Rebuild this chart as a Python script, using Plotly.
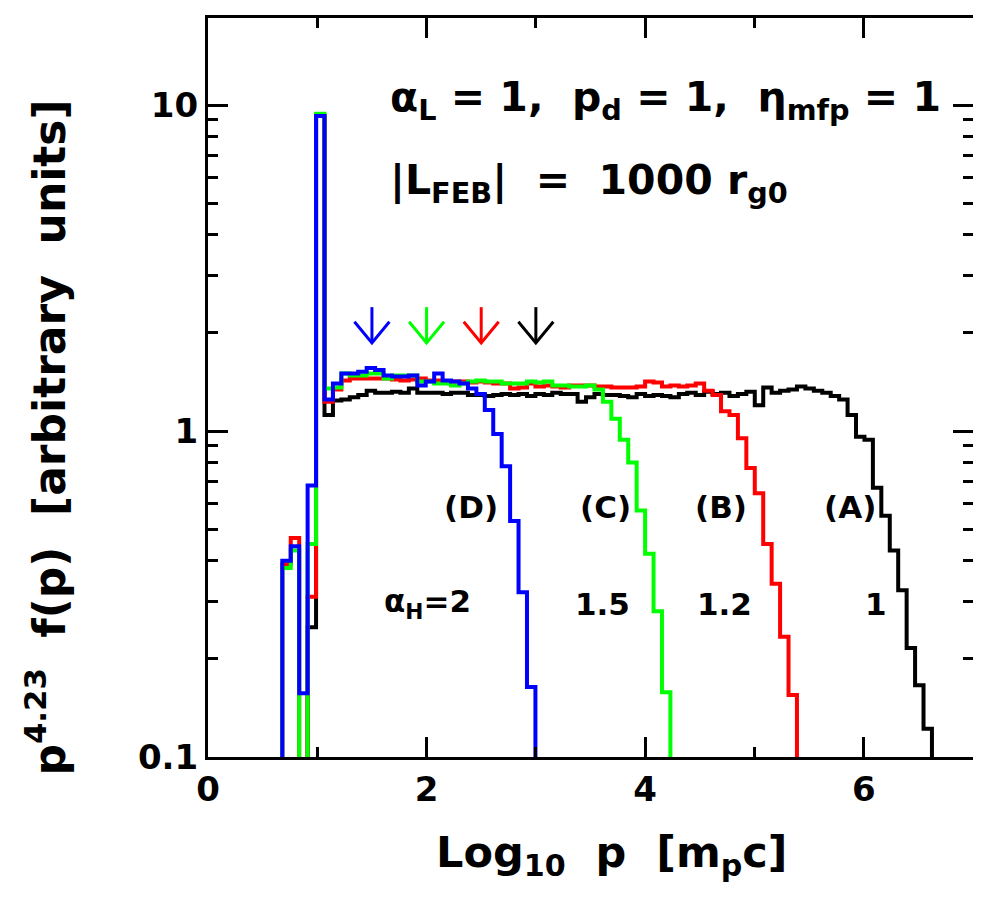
import numpy as np
import plotly.graph_objects as go

# bin grid in Log10 p (shared by all runs)
bin_start = 0.680
bin_width = 0.0772

# p^4.23 f(p) per bin, 0 = empty bin
spec_A = [0, 0, 0, 0.25, 9.25,
          1.12, 1.24, 1.25, 1.27, 1.29, 1.33, 1.31, 1.31, 1.32, 1.31,
          1.35, 1.31, 1.31, 1.31, 1.30, 1.31, 1.31, 1.29, 1.29, 1.28,
          1.29, 1.30, 1.29, 1.30, 1.28, 1.30, 1.29, 1.31, 1.30, 1.30,
          1.23, 1.27, 1.30, 1.29, 1.29, 1.28, 1.27, 1.30, 1.28, 1.29,
          1.28, 1.27, 1.30, 1.31, 1.29, 1.32, 1.30, 1.31, 1.28, 1.30,
          1.32, 1.20, 1.36, 1.31, 1.33, 1.34, 1.37, 1.35, 1.33, 1.31,
          1.28, 1.25, 1.12, 0.96, 0.94, 0.67, 0.55, 0.43, 0.325, 0.216,
          0.166, 0.122]
spec_B = [0.39, 0.47, 0, 0.31, 9.25,
          1.23, 1.34, 1.43, 1.45, 1.45, 1.45, 1.45, 1.45, 1.44, 1.43,
          1.44, 1.45, 1.43, 1.43, 1.42, 1.42, 1.42, 1.41, 1.42, 1.41,
          1.40, 1.40, 1.35, 1.36, 1.40, 1.37, 1.38, 1.37, 1.36, 1.38,
          1.38, 1.38, 1.37, 1.37, 1.36, 1.36, 1.36, 1.37, 1.42, 1.41,
          1.37, 1.38, 1.37, 1.38, 1.40, 1.33, 1.29, 1.15, 1.12, 0.95,
          0.77, 0.644, 0.45, 0.34, 0.234, 0.155]
spec_C = [0.38, 0.43, 0, 0.45, 9.4,
          1.35, 1.36, 1.50, 1.48, 1.48, 1.50, 1.50, 1.45, 1.48, 1.48,
          1.48, 1.42, 1.42, 1.40, 1.40, 1.38, 1.40, 1.42, 1.43, 1.42,
          1.42, 1.40, 1.40, 1.40, 1.42, 1.41, 1.42, 1.38, 1.38, 1.37,
          1.37, 1.38, 1.34, 1.23, 1.09, 0.94, 0.80, 0.57, 0.42, 0.28,
          0.158]
spec_D = [0.40, 0.443, 0.157, 0.68, 9.25,
          1.25, 1.40, 1.50, 1.50, 1.52, 1.56, 1.54, 1.48, 1.47, 1.47,
          1.48, 1.38, 1.42, 1.50, 1.43, 1.42, 1.40, 1.35, 1.30, 1.16,
          0.98, 0.78, 0.53, 0.32, 0.164]

series_names = ["(A)", "(B)", "(C)", "(D)"]
series_colors = ["black", "#ff0000", "#00ff00", "#0000ff"]
alpha_H = ["1", "1.2", "1.5", "2"]

# arrows mark Log10 p for each run
arrow_x = [3.0, 2.5, 2.0, 1.5]

text_color = "black"
font_family = "DejaVu Sans"


def step_trace(values, color):
    n = len(values)
    edges = bin_start + bin_width * np.arange(n + 1)
    y = [v if v > 0 else 1e-3 for v in values]
    xs = np.concatenate([[edges[0]], edges, [edges[-1]]])
    ys = [1e-3] + y + [y[-1], 1e-3]
    return go.Scatter(x=xs, y=ys, mode="lines", line_shape="hv",
                      line=dict(color=color, width=4), showlegend=False,
                      hoverinfo="skip")


fig = go.Figure()
for vals, col in zip([spec_A, spec_B, spec_C, spec_D], series_colors):
    fig.add_trace(step_trace(vals, col))

# open "V" arrows
tip = 10 ** 0.27
top = 10 ** 0.38
wing = 10 ** 0.335
for ax_, col in zip(arrow_x, series_colors):
    fig.add_trace(go.Scatter(
        x=[ax_, ax_, None, ax_ - 0.16, ax_, ax_ + 0.16],
        y=[top, tip, None, wing, tip, wing],
        mode="lines", line=dict(color=col, width=3),
        showlegend=False, hoverinfo="skip"))


def bold(size):
    return dict(family=font_family, size=size, color=text_color, weight="bold")


annots = [
    dict(x=1.65, y=1.015, xanchor="left", font=bold(41),
         text="α<sub>L</sub> = 1,  p<sub>d</sub> = 1,  η<sub>mfp</sub> = 1"),
    dict(x=1.65, y=0.761, xanchor="left", font=bold(41),
         text="|L<sub>FEB</sub>|  =  1000 r<sub>g0</sub>"),
]
label_x = [5.87, 4.69, 3.64, 2.41]
ah_x = [6.11, 4.73, 3.61, 2.01]
for name, lx in zip(series_names, label_x):
    annots.append(dict(x=lx, y=-0.233, xanchor="center", text=name, font=bold(31)))
for i, (a, hx) in enumerate(zip(alpha_H, ah_x)):
    t = "α<sub>H</sub>=" + a if i == 3 else a
    annots.append(dict(x=hx, y=-0.53, xanchor="center", text=t, font=bold(31)))
for a in annots:
    a.update(xref="x", yref="y", showarrow=False, yanchor="middle")

# axis titles
annots.append(dict(xref="paper", yref="paper", x=0.527, y=-0.133,
                   xanchor="center", yanchor="middle", showarrow=False,
                   font=bold(43),
                   text="Log<sub>10</sub>  p  [m<sub>p</sub>c]"))
annots.append(dict(xref="paper", yref="paper", x=-0.212, y=0.432,
                   xanchor="center", yanchor="middle", showarrow=False,
                   textangle=-90, font=bold(44),
                   text="p<sup>4.23</sup>  f(p)  [arbitrary  units]"))

fig.update_layout(
    width=973, height=893,
    plot_bgcolor="white", paper_bgcolor="white",
    margin=dict(l=200, r=5, t=10, b=144),
    annotations=annots,
    xaxis=dict(
        range=[0, 7], tickvals=[0, 2, 4, 6],
        ticks="inside", ticklen=20, tickwidth=3, tickcolor="black",
        showline=True, linewidth=3, linecolor="black", mirror="allticks",
        showgrid=False, zeroline=False,
        tickfont=bold(34),
        minor=dict(tickvals=[1, 3, 5], ticks="inside", ticklen=10,
                   tickwidth=3, tickcolor="black", showgrid=False),
    ),
    yaxis=dict(
        type="log", range=[-1, 1.267], tickvals=[0.1, 1, 10],
        ticktext=["0.1", "1", "10"],
        ticks="inside", ticklen=20, tickwidth=3, tickcolor="black",
        showline=True, linewidth=3, linecolor="black", mirror="allticks",
        showgrid=False, zeroline=False,
        tickfont=bold(34),
        minor=dict(tickvals=[0.2, 0.3, 0.4, 0.5, 0.6, 0.7, 0.8, 0.9,
                             2, 3, 4, 5, 6, 7, 8, 9],
                   ticks="inside", ticklen=10, tickwidth=3,
                   tickcolor="black", showgrid=False),
    ),
)

fig.write_html("out.html")
